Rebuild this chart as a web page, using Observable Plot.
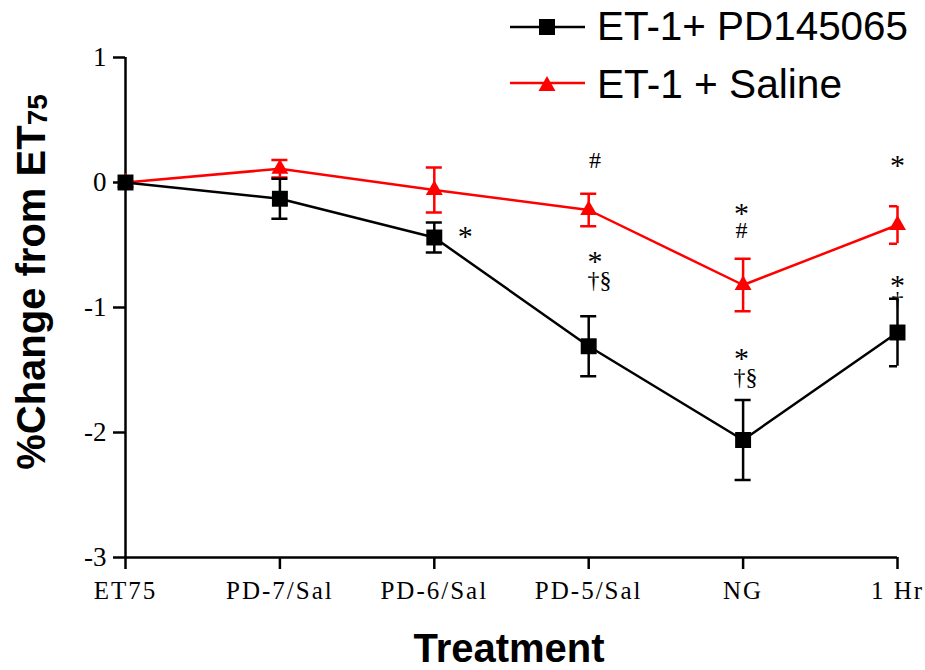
<!DOCTYPE html>
<html><head><meta charset="utf-8">
<script src="https://cdn.jsdelivr.net/npm/d3@7"></script>
<script src="https://cdn.jsdelivr.net/npm/@observablehq/plot@0.6"></script>
<style>
body{margin:0;background:#fff}
#chart{position:relative;width:925px;height:670px}
#chart svg [aria-label="x-axis tick label"] text{letter-spacing:2px}
</style></head><body><div id="chart"></div>
<script>
const categories = ["ET75", "PD-7/Sal", "PD-6/Sal", "PD-5/Sal", "NG", "1 Hr"];
const pdMean  = [0, -0.13, -0.44, -1.31, -2.06, -1.20];
const pdSE    = [0,  0.16,  0.12,  0.24,  0.32,  0.27];
const salMean = [0,  0.11, -0.06, -0.22, -0.82, -0.34];
const salSE   = [0,  0.07,  0.18,  0.13,  0.21,  0.15];
const yTicks = [-3, -2, -1, 0, 1];
const seriesNames = ["ET-1+ PD145065", "ET-1 + Saline"];
const annotText = ["*", "#", "*", "†§", "*", "#", "*", "†§", "*", "*", "†"];
const annotX    = [2.2, 3.04, 3.04, 3.07, 3.99, 3.99, 3.99, 4.015, 5, 5, 5];
const annotY    = [-0.37, 0.18, -0.57, -0.78, -0.18, -0.38, -1.34, -1.56, 0.2, -0.76, -0.94];

const last = categories.length - 1;
const capHalf = 0.052;
function rows(mean, se) {
  return categories.map((c, i) => ({i, cat: c, m: mean[i], lo: mean[i] - se[i], hi: mean[i] + se[i], se: se[i]}));
}
const pd = rows(pdMean, pdSE);
const sal = rows(salMean, salSE);
function caps(data) {
  const out = [];
  data.filter(d => d.se > 0).forEach(d => {
    const x1 = d.i - capHalf, x2 = d.i === last ? d.i : d.i + capHalf;
    out.push({x1, x2, y: d.lo}, {x1, x2, y: d.hi});
  });
  return out;
}
const annots = annotText.map((t, k) => ({t, x: annotX[k], y: annotY[k]}));

const RED = "#ff0000";
const plot = Plot.plot({
  width: 925, height: 670,
  marginLeft: 125, marginRight: 28, marginTop: 57, marginBottom: 113,
  style: {fontFamily: "'Liberation Serif', 'Times New Roman', serif", color: "black", background: "white"},
  x: {type: "linear", domain: [0, last]},
  y: {domain: [-3, 1]},
  marks: [
    Plot.axisX({ticks: d3.range(categories.length), tickFormat: i => categories[i], tickSize: 12, tickPadding: 12, fontSize: 25, strokeWidth: 2.5, label: null}),
    Plot.axisY({ticks: yTicks, tickFormat: d => String(d), tickSize: 12, tickPadding: 7, fontSize: 27, strokeWidth: 2.5, label: null}),
    Plot.ruleX([0], {y1: -3, y2: 1, stroke: "black", strokeWidth: 2.5}),
    Plot.ruleY([-3], {x1: 0, x2: last, stroke: "black", strokeWidth: 2.5}),
    // Saline
    Plot.ruleX(sal.filter(d => d.se > 0), {x: "i", y1: "lo", y2: "hi", stroke: RED, strokeWidth: 2.5}),
    Plot.ruleY(caps(sal), {x1: "x1", x2: "x2", y: "y", stroke: RED, strokeWidth: 2.5}),
    Plot.line(sal, {x: "i", y: "m", stroke: RED, strokeWidth: 2.5}),
    Plot.dot(sal, {x: "i", y: "m", symbol: "triangle", r: 6.3, fill: RED, stroke: "none"}),
    // PD145065
    Plot.ruleX(pd.filter(d => d.se > 0), {x: "i", y1: "lo", y2: "hi", stroke: "black", strokeWidth: 2.5}),
    Plot.ruleY(caps(pd), {x1: "x1", x2: "x2", y: "y", stroke: "black", strokeWidth: 2.5}),
    Plot.line(pd, {x: "i", y: "m", stroke: "black", strokeWidth: 2.5}),
    Plot.dot(pd, {x: "i", y: "m", symbol: "square", r: 9, fill: "black", stroke: "none"}),
    // significance marks
    Plot.text(annots.filter(d => d.t === "*"), {x: "x", y: "y", text: "t", fontSize: 30, dy: 8, fill: "black"}),
    Plot.text(annots.filter(d => d.t !== "*"), {x: "x", y: "y", text: "t", fontSize: 24, fill: "black"})
  ]
});
document.getElementById("chart").appendChild(plot);

const svg = d3.select(plot);
const sans = "'Liberation Sans', Arial, sans-serif";
// legend
const leg = svg.append("g").attr("class", "legend").attr("text-anchor", "start");
leg.append("line").attr("x1", 510).attr("x2", 585).attr("y1", 27).attr("y2", 27).attr("stroke", "black").attr("stroke-width", 2.5);
leg.append("rect").attr("x", 539).attr("y", 19).attr("width", 16).attr("height", 16).attr("fill", "black");
leg.append("text").attr("x", 597).attr("y", 40).attr("text-anchor", "start").attr("font-family", sans).attr("font-size", 40)
  .attr("textLength", 311).attr("lengthAdjust", "spacingAndGlyphs").attr("fill", "black").text(seriesNames[0]);
leg.append("line").attr("x1", 510).attr("x2", 585).attr("y1", 83).attr("y2", 83).attr("stroke", RED).attr("stroke-width", 2.5);
leg.append("path").attr("d", "M547,76L555.5,91L538.5,91Z").attr("fill", RED);
leg.append("text").attr("x", 597).attr("y", 98).attr("text-anchor", "start").attr("font-family", sans).attr("font-size", 40)
  .attr("textLength", 245).attr("lengthAdjust", "spacingAndGlyphs").attr("fill", "black").text(seriesNames[1]);
// axis titles
const yl = svg.append("text").attr("transform", "translate(45,282) rotate(-90)").attr("text-anchor", "middle")
  .attr("font-family", sans).attr("font-weight", "bold").attr("font-size", 40).attr("fill", "black");
yl.append("tspan").text("%Change from ET");
yl.append("tspan").attr("font-size", 28).attr("dy", 2).text("75");
svg.append("text").attr("x", 509).attr("y", 662).attr("text-anchor", "middle")
  .attr("font-family", sans).attr("font-weight", "bold").attr("font-size", 40).attr("fill", "black").text("Treatment");
</script></body></html>
